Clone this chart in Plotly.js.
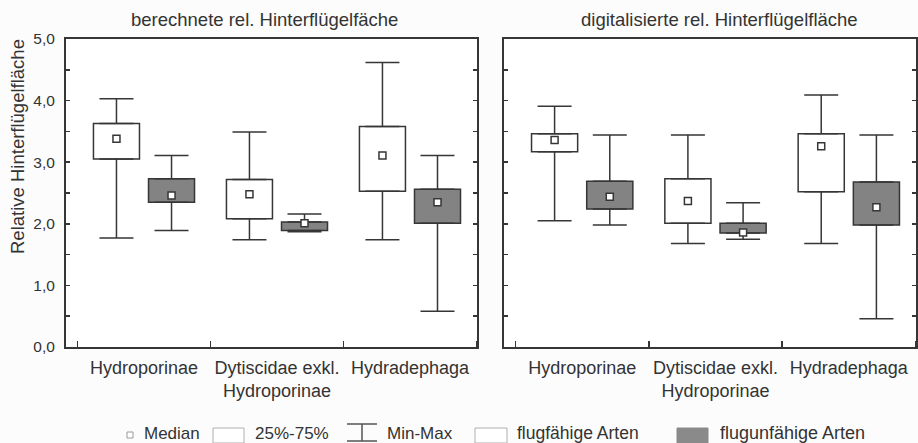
<!DOCTYPE html>
<html>
<head>
<meta charset="utf-8">
<script src="https://cdn.plot.ly/plotly-3.0.1.min.js"></script>
<style>html,body{margin:0;padding:0;background:#fcfcfc;}#chart{width:918px;height:443px;}</style>
</head>
<body>
<div id="chart"></div>
<script>
// ---------- data ----------
const categories = ['Hydroporinae', 'Dytiscidae exkl.<br>Hydroporinae', 'Hydradephaga'];
const categoryIndex = [1, 2, 3];
const panelTitles = ['berechnete rel. Hinterflügelfäche', 'digitalisierte rel. Hinterflügelfläche'];
const yAxisTitle = 'Relative Hinterflügelfläche';
const yTickValues = [0, 1, 2, 3, 4, 5];
const legendLabels = ['Median', '25%-75%', 'Min-Max', 'flugfähige Arten', 'flugunfähige Arten'];

// berechnete rel. Hinterflügelfläche – flugfähige Arten
const berFlugMin = [1.77, 1.74, 1.74];
const berFlugQ1  = [3.05, 2.08, 2.53];
const berFlugMed = [3.38, 2.48, 3.11];
const berFlugQ3  = [3.63, 2.72, 3.58];
const berFlugMax = [4.03, 3.49, 4.62];
// berechnete rel. Hinterflügelfläche – flugunfähige Arten
const berUnflMin = [1.89, 1.87, 0.58];
const berUnflQ1  = [2.35, 1.89, 2.01];
const berUnflMed = [2.46, 2.01, 2.35];
const berUnflQ3  = [2.73, 2.03, 2.56];
const berUnflMax = [3.11, 2.16, 3.11];
// digitalisierte rel. Hinterflügelfläche – flugfähige Arten
const digFlugMin = [2.05, 1.68, 1.68];
const digFlugQ1  = [3.17, 2.01, 2.52];
const digFlugMed = [3.36, 2.37, 3.26];
const digFlugQ3  = [3.46, 2.73, 3.46];
const digFlugMax = [3.91, 3.44, 4.09];
// digitalisierte rel. Hinterflügelfläche – flugunfähige Arten
const digUnflMin = [1.98, 1.75, 0.46];
const digUnflQ1  = [2.24, 1.85, 1.98];
const digUnflMed = [2.44, 1.86, 2.27];
const digUnflQ3  = [2.69, 2.01, 2.68];
const digUnflMax = [3.44, 2.34, 3.44];

// ---------- style ----------
const FONT = '"Liberation Sans", Arial, Helvetica, sans-serif';
const INK = '#363636';
const TXT = '#333333';
const GREY = '#838383';
const BOXOFF = 0.207, BOXW = 0.346, CAPW = 17;

function seriesTraces(xa, ya, offset, fill, mn, q1, med, q3, mx) {
  const xs = categoryIndex.map(i => i + offset);
  const zeros = xs.map(() => 0);
  return [
    {type: 'bar', x: xs, base: q1, y: q3.map((v, i) => v - q1[i]), width: BOXW,
     marker: {color: fill, line: {color: INK, width: 1.5}}, xaxis: xa, yaxis: ya,
     showlegend: false, hoverinfo: 'skip'},
    {type: 'scatter', mode: 'markers', x: xs, y: q3, marker: {size: 1, color: 'rgba(0,0,0,0)'},
     error_y: {type: 'data', symmetric: false, array: mx.map((v, i) => v - q3[i]), arrayminus: zeros,
               color: INK, thickness: 1.5, width: CAPW},
     xaxis: xa, yaxis: ya, showlegend: false, hoverinfo: 'skip'},
    {type: 'scatter', mode: 'markers', x: xs, y: q1, marker: {size: 1, color: 'rgba(0,0,0,0)'},
     error_y: {type: 'data', symmetric: false, array: zeros, arrayminus: q1.map((v, i) => v - mn[i]),
               color: INK, thickness: 1.5, width: CAPW},
     xaxis: xa, yaxis: ya, showlegend: false, hoverinfo: 'skip'},
    {type: 'scatter', mode: 'markers', x: xs, y: med,
     marker: {symbol: 'square', size: 7, color: '#ffffff', line: {color: INK, width: 1.5}},
     xaxis: xa, yaxis: ya, showlegend: false, hoverinfo: 'skip'}
  ];
}

const traces = [].concat(
  seriesTraces('x', 'y', -BOXOFF, '#ffffff', berFlugMin, berFlugQ1, berFlugMed, berFlugQ3, berFlugMax),
  seriesTraces('x', 'y', BOXOFF, GREY, berUnflMin, berUnflQ1, berUnflMed, berUnflQ3, berUnflMax),
  seriesTraces('x2', 'y2', -BOXOFF, '#ffffff', digFlugMin, digFlugQ1, digFlugMed, digFlugQ3, digFlugMax),
  seriesTraces('x2', 'y2', BOXOFF, GREY, digUnflMin, digUnflQ1, digUnflMed, digUnflQ3, digUnflMax)
);

function xAxis(domain, anchor) {
  return {domain: domain, anchor: anchor, range: [0.4135, 3.504], tickmode: 'array',
    tickvals: categoryIndex, ticktext: categories, ticks: '', showline: true, linecolor: INK,
    linewidth: 2, mirror: true, zeroline: false, showgrid: false, ticklabelstandoff: 3,
    tickfont: {family: FONT, size: 18, color: TXT},
    minor: {tickmode: 'array', tickvals: [0.5, 1.5, 2.5, 3.5], ticks: 'inside', ticklen: 6,
            tickcolor: INK, tickwidth: 1.5, showgrid: false}};
}
function yAxis(anchor, labels) {
  return {domain: [0, 1], anchor: anchor, range: [0, 5], tickmode: 'array', tickvals: yTickValues,
    tickformat: '.1f', ticks: 'inside', ticklen: 4, tickcolor: INK, tickwidth: 1.5,
    showline: true, linecolor: INK, linewidth: 2, mirror: 'ticks', zeroline: false, showgrid: false,
    showticklabels: labels, ticklabelstandoff: 6,
    tickfont: {family: FONT, size: 15.5, color: TXT},
    minor: {tickmode: 'linear', tick0: 0, dtick: 0.5, ticks: 'inside', ticklen: 4,
            tickcolor: INK, tickwidth: 1.5, showgrid: false}};
}

// legend geometry helpers (paper coords, derived from pixel layout)
const ML = 66, MT = 39, PW = 850, PH = 308;
const px = v => (v - ML) / PW;
const py = v => (MT + PH - v) / PH;
const legY = 433;

const shapes = [
  {type: 'rect', xref: 'paper', yref: 'paper', x0: px(127), x1: px(133), y0: py(438), y1: py(432),
   line: {color: '#9a9a9a', width: 1}, fillcolor: '#ffffff'},
  {type: 'rect', xref: 'paper', yref: 'paper', x0: px(213), x1: px(244), y0: py(443), y1: py(428),
   line: {color: '#b0b0b0', width: 1}, fillcolor: '#ffffff'},
  {type: 'line', xref: 'paper', yref: 'paper', x0: px(347), x1: px(377), y0: py(424), y1: py(424),
   line: {color: '#555', width: 1.5}},
  {type: 'line', xref: 'paper', yref: 'paper', x0: px(362), x1: px(362), y0: py(424), y1: py(441),
   line: {color: '#555', width: 1.5}},
  {type: 'line', xref: 'paper', yref: 'paper', x0: px(347), x1: px(377), y0: py(441), y1: py(441),
   line: {color: '#555', width: 1.5}},
  {type: 'rect', xref: 'paper', yref: 'paper', x0: px(475), x1: px(507), y0: py(443), y1: py(428),
   line: {color: '#b0b0b0', width: 1}, fillcolor: '#ffffff'},
  {type: 'rect', xref: 'paper', yref: 'paper', x0: px(677), x1: px(708), y0: py(443), y1: py(428),
   line: {color: '#8a8a8a', width: 1}, fillcolor: '#8a8a8a'}
];

const legTextX = [142, 253, 385, 515, 718];
const legSize = [17, 17, 17, 17.5, 18];
const annotations = legendLabels.map((t, i) => ({
  text: t, xref: 'paper', yref: 'paper', x: px(legTextX[i]), y: py(legY),
  xanchor: 'left', yanchor: 'middle', showarrow: false,
  font: {family: FONT, size: legSize[i], color: TXT}
}));
annotations.push(
  {text: panelTitles[0], xref: 'paper', yref: 'paper', x: px(264), y: py(19), xanchor: 'center',
   yanchor: 'middle', showarrow: false, font: {family: FONT, size: 18.5, color: TXT}},
  {text: panelTitles[1], xref: 'paper', yref: 'paper', x: px(719), y: py(19), xanchor: 'center',
   yanchor: 'middle', showarrow: false, font: {family: FONT, size: 18.5, color: TXT}},
  {text: yAxisTitle, xref: 'paper', yref: 'paper', x: px(17), y: py(147), xanchor: 'center',
   yanchor: 'middle', textangle: -90, showarrow: false, font: {family: FONT, size: 18.5, color: TXT}}
);

const layout = {
  width: 918, height: 443,
  margin: {l: ML, r: 918 - ML - PW, t: MT, b: 443 - MT - PH},
  paper_bgcolor: '#fcfcfc', plot_bgcolor: '#ffffff',
  separators: ',.', barmode: 'overlay', showlegend: false,
  font: {family: FONT, color: TXT},
  xaxis: xAxis([0, 411 / PW], 'y'),
  xaxis2: xAxis([(504 - ML) / PW, 1], 'y2'),
  yaxis: yAxis('x', true),
  yaxis2: yAxis('x2', false),
  shapes: shapes,
  annotations: annotations
};

Plotly.newPlot('chart', traces, layout, {displayModeBar: false, staticPlot: true});
</script>
</body>
</html>
